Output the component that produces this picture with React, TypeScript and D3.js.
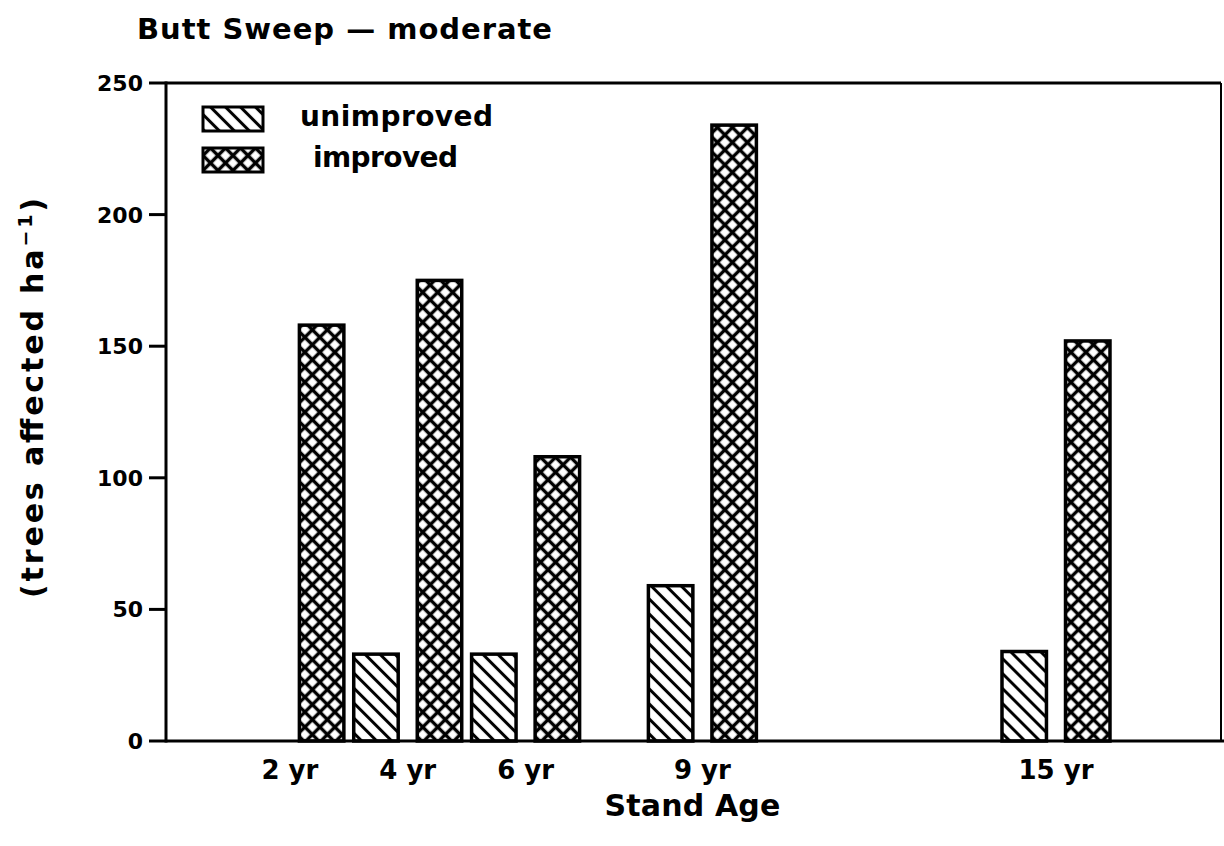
import React from 'react';
import * as d3 from 'd3';

// chart values
const ages = [2, 4, 6, 9, 15];
const ageLabels = ['2 yr', '4 yr', '6 yr', '9 yr', '15 yr'];
const unimproved = [0, 33, 33, 59, 34];
const improved = [158, 175, 108, 234, 152];
const yTicks = [0, 50, 100, 150, 200, 250];
const seriesNames = ['unimproved', 'improved'];

const W = 1224;
const H = 846;
const FONT = '"DejaVu Sans", sans-serif';

const App: React.FC = () => {
  // plot frame
  const left = 166;
  const right = 1221;
  const top = 83;
  const bottom = 741;

  const x = d3.scaleLinear().domain([0, 17.8]).range([172, right]);
  const y = d3.scaleLinear().domain([0, 250]).range([bottom, top]);
  const inner = d3.scaleBand<string>().domain(seriesNames).range([-54, 54]).paddingInner(0.3);

  const rows = ages.map((age, i) => ({
    age,
    label: ageLabels[i],
    values: [
      { key: 'unimproved', value: unimproved[i] },
      { key: 'improved', value: improved[i] },
    ],
  }));

  const fillFor = (key: string) => (key === 'unimproved' ? 'url(#hatch)' : 'url(#cross)');

  return (
    <div style={{ position: 'absolute', left: 0, top: 0 }}>
      <svg width={W} height={H} style={{ display: 'block', background: '#fff' }}>
        <defs>
          <pattern id="hatch" patternUnits="userSpaceOnUse" width={10.6} height={10.6}
            patternTransform="rotate(-45)">
            <rect width={10.6} height={10.6} fill="#fff" />
            <line x1={5.3} y1={0} x2={5.3} y2={10.6} stroke="#000" strokeWidth={3} />
          </pattern>
          <pattern id="cross" patternUnits="userSpaceOnUse" width={10.6} height={10.6}
            patternTransform="rotate(45)">
            <rect width={10.6} height={10.6} fill="#fff" />
            <line x1={5.3} y1={0} x2={5.3} y2={10.6} stroke="#000" strokeWidth={3.4} />
            <line x1={0} y1={5.3} x2={10.6} y2={5.3} stroke="#000" strokeWidth={3.4} />
          </pattern>
        </defs>

        {/* title */}
        <text x={137} y={39} fontFamily={FONT} fontSize={29} fontWeight="bold"
          textLength={415} lengthAdjust="spacing">
          Butt Sweep — moderate
        </text>

        {/* bars */}
        {rows.map(r => (
          <g key={r.age} transform={`translate(${x(r.age)},0)`}>
            {r.values.filter(v => v.value > 0).map(v => (
              <rect key={v.key}
                x={inner(v.key)}
                y={y(v.value)}
                width={inner.bandwidth()}
                height={y(0) - y(v.value)}
                fill={fillFor(v.key)}
                stroke="#000"
                strokeWidth={3.5} />
            ))}
            <text x={0} y={779} textAnchor="middle" fontFamily={FONT} fontSize={26}
              fontWeight="bold">
              {r.label}
            </text>
          </g>
        ))}

        {/* frame */}
        <line x1={left} x2={left} y1={top - 1.5} y2={bottom + 1.5} stroke="#000" strokeWidth={3} />
        <line x1={left} x2={right} y1={top} y2={top} stroke="#000" strokeWidth={3} />
        <line x1={right} x2={right} y1={top} y2={bottom} stroke="#000" strokeWidth={2} />
        <line x1={left} x2={W} y1={bottom} y2={bottom} stroke="#000" strokeWidth={3} />

        {/* y axis ticks */}
        {yTicks.map(t => (
          <g key={t} transform={`translate(0,${y(t)})`}>
            <line x1={149} x2={left} y1={0} y2={0} stroke="#000" strokeWidth={3} />
            <text x={143} y={0} dy="0.36em" textAnchor="end" fontFamily={FONT}
              fontSize={22} fontWeight="bold">
              {t}
            </text>
          </g>
        ))}

        {/* legend */}
        {seriesNames.map((s, i) => (
          <g key={s} transform={`translate(203,${107 + i * 41})`}>
            <rect x={0} y={0} width={60} height={24} fill={fillFor(s)} stroke="#000" strokeWidth={3} />
            <text x={i === 0 ? 97 : 110} y={19} fontFamily={FONT} fontSize={28} fontWeight="bold"
              textLength={i === 0 ? 193 : 145} lengthAdjust="spacing">
              {s}
            </text>
          </g>
        ))}

        {/* axis titles */}
        <text x={x(9) - 10} y={816} textAnchor="middle" fontFamily={FONT} fontSize={30}
          fontWeight="bold" textLength={176} lengthAdjust="spacing">
          Stand Age
        </text>
        <text transform="translate(43,398) rotate(-90)" textAnchor="middle" fontFamily={FONT}
          fontSize={30} fontWeight="bold" textLength={400} lengthAdjust="spacing">
          (trees affected ha<tspan dy={-11} fontSize={19}>−1</tspan><tspan dy={11}>)</tspan>
        </text>
      </svg>
    </div>
  );
};

export default App;
